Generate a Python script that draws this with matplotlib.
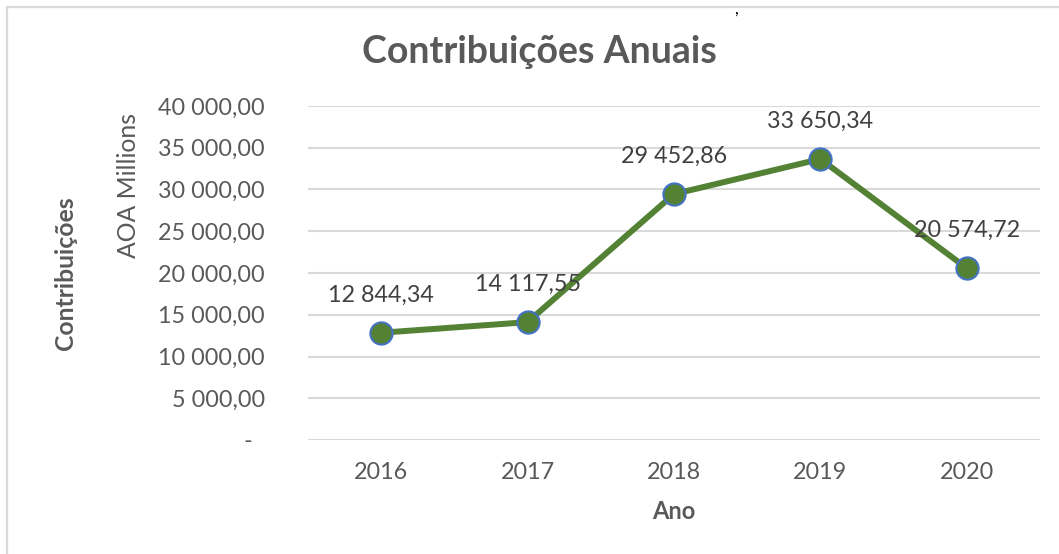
import matplotlib
matplotlib.use("Agg")
import matplotlib.pyplot as plt
from matplotlib.patches import Rectangle

# Dados do gráfico
anos = ["2016", "2017", "2018", "2019", "2020"]
contribuicoes = [12844.34, 14117.55, 29452.86, 33650.34, 20574.72]
rotulos = ["12 844,34", "14 117,55", "29 452,86", "33 650,34", "20 574,72"]
yticks = [0, 5000, 10000, 15000, 20000, 25000, 30000, 35000, 40000]
ytick_labels = ["-  ", "5 000,00", "10 000,00", "15 000,00", "20 000,00",
                "25 000,00", "30 000,00", "35 000,00", "40 000,00"]

plt.rcParams['font.family'] = ['Lato', 'DejaVu Sans']
cinza = "#595959"

fig = plt.figure(figsize=(10.59, 5.54), dpi=100)
W, H = 1059, 554
ax = fig.add_axes([308 / W, 1 - 440 / H, (1040 - 308) / W, (440 - 106) / H])

# moldura do gráfico (estilo Excel)
fig.patches.append(Rectangle((7 / W, -0.2), 1.2, 1.2 - 7 / H,
                             transform=fig.transFigure, fill=False,
                             edgecolor="#D9D9D9", linewidth=1.6, clip_on=False))

x = list(range(len(anos)))
ax.plot(x, contribuicoes, color="#548235", linewidth=4.3, marker="o",
        markersize=16, markerfacecolor="#548235", markeredgecolor="#4472C4",
        markeredgewidth=1.5, zorder=3)

for i, v in enumerate(contribuicoes):
    ax.annotate(rotulos[i], (i, v), xytext=(0, 27), textcoords="offset points",
                ha="center", va="center", fontsize=16.8, color="#404040")

ax.set_xlim(-0.5, 4.5)
ax.set_ylim(0, 40000)
ax.set_xticks(x)
ax.set_xticklabels(anos)
ax.set_yticks(yticks)
ax.set_yticklabels(ytick_labels)
ax.tick_params(axis="both", length=0, labelsize=16.8, labelcolor=cinza)
ax.tick_params(axis="y", pad=31)
ax.tick_params(axis="x", pad=16)
ax.grid(axis="y", color="#D9D9D9", linewidth=1.5)
ax.set_axisbelow(True)
for s in ax.spines.values():
    s.set_visible(False)

ax.set_xlabel("Ano", fontsize=17, fontweight="bold", color=cinza, labelpad=12)

fig.text(539 / W, 1 - 52 / H, "Contribuições Anuais", ha="center", va="center",
         fontsize=27, fontweight="bold", color=cinza)
fig.text(65 / W, 1 - 273 / H, "Contribuições", rotation=90, ha="center",
         va="center", fontsize=17.8, fontweight="bold", color=cinza)
fig.text(128 / W, 1 - 185 / H, "AOA Millions", rotation=90, ha="center",
         va="center", fontsize=17.8, color=cinza)
fig.text(736 / W, 1 - 1 / H, ",", ha="center", va="top", fontsize=12,
         color="#000000")

fig.savefig("out.png", dpi=100)
